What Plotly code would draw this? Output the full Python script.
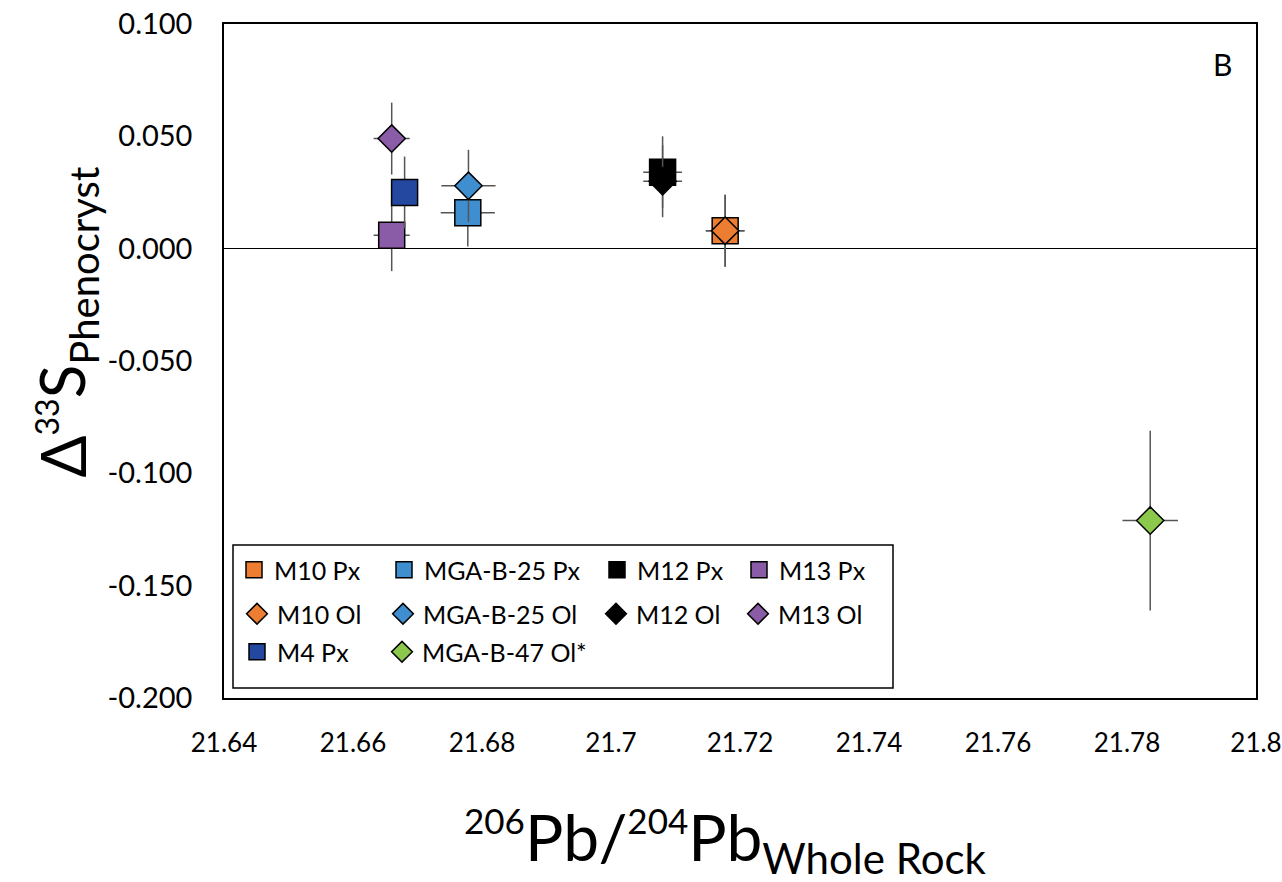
import plotly.graph_objects as go

# ---- data ----
names = ["M10 Px", "MGA-B-25 Px", "M12 Px", "M13 Px",
         "M10 Ol", "MGA-B-25 Ol", "M12 Ol", "M13 Ol",
         "M4 Px", "MGA-B-47 Ol*"]
pb206_204 = [21.7177, 21.6778, 21.7080, 21.6660,
             21.7177, 21.6779, 21.7080, 21.6660,
             21.6680, 21.7836]
d33s = [0.008, 0.016, 0.034, 0.006,
        0.008, 0.028, 0.030, 0.049,
        0.025, -0.121]
err_x = [0.0030, 0.0042, 0.0030, 0.0028,
         0.0030, 0.0042, 0.0030, 0.0028,
         0.0, 0.0043]
err_y = [0.016, 0.015, 0.016, 0.016,
         0.016, 0.016, 0.016, 0.016,
         0.016, 0.040]
colors = ["#ED7D31", "#3E8ED0", "#000000", "#8A5BA6",
          "#ED7D31", "#3E8ED0", "#000000", "#8A5BA6",
          "#2447A0", "#8CC84B"]
symbols = ["square", "square", "square", "square",
           "diamond", "diamond", "diamond", "diamond",
           "square", "diamond"]
x_ticks = [21.64, 21.66, 21.68, 21.7, 21.72, 21.74, 21.76, 21.78, 21.8]
x_tick_text = ["21.64", "21.66", "21.68", "21.7", "21.72", "21.74", "21.76", "21.78", "21.8"]
y_ticks = [0.1, 0.05, 0.0, -0.05, -0.1, -0.15, -0.2]
y_tick_text = ["0.100", "0.050", "0.000", "-0.050", "-0.100", "-0.150", "-0.200"]

# legend entry placement (left edge x, centre y, window pixels) - layout only
leg_px = [(234, 570), (384, 570), (597, 570), (739, 570),
          (237, 614), (383, 614), (596, 614), (738, 614),
          (237, 652), (382, 652)]

W, H = 1282, 882
L, R, T, B = 224, 26, 24, 184
pw, ph = W - L - R, H - T - B


def pxx(p):
    return (p - L) / pw


def pxy(p):
    return (H - B - p) / ph


FONT = "Lato, 'Open Sans', sans-serif"

fig = go.Figure()
layout_legends = {}
for i, n in enumerate(names):
    lid = "legend" if i == 0 else f"legend{i+1}"
    size = 26 if symbols[i] == "square" else 21
    fig.add_trace(go.Scatter(
        x=[pb206_204[i]], y=[d33s[i]], mode="markers", name=n,
        legend=lid,
        marker=dict(symbol=symbols[i], size=size, color=colors[i],
                    line=dict(color="black", width=1.5)),
        error_x=dict(type="data", array=[err_x[i]], visible=err_x[i] > 0,
                     color="#555555", thickness=1.5, width=0),
        error_y=dict(type="data", array=[err_y[i]], visible=True,
                     color="#555555", thickness=1.5, width=0),
    ))
    lx, ly = leg_px[i]
    layout_legends[lid] = dict(
        x=pxx(lx), y=pxy(ly),
        xanchor="left", yanchor="middle",
        bgcolor="rgba(0,0,0,0)", borderwidth=0,
        font=dict(family=FONT, size=25, color="black"),
        itemsizing="trace", itemwidth=30,
    )

fig.update_layout(**layout_legends)

x_title = ("<sup><span style='font-size:35px'>206</span></sup>Pb/"
           "<sup><span style='font-size:35px'>204</span></sup>Pb"
           "<sub><span style='font-size:42px'>Whole Rock</span></sub>")
y_title = ("Δ<sup><span style='font-size:32px'>33</span></sup>S"
           "<sub><span style='font-size:40px'>Phenocryst</span></sub>")

fig.update_layout(
    width=W, height=H,
    margin=dict(l=L, r=R, t=T, b=B, pad=0),
    paper_bgcolor="white", plot_bgcolor="white",
    showlegend=True,
    font=dict(family=FONT, size=22, color="black"),
    xaxis=dict(range=[21.64, 21.8], tickvals=x_ticks, ticktext=x_tick_text,
               showgrid=False, zeroline=False, showline=True, mirror=True,
               linecolor="black", linewidth=1.5, ticks="",
               ticklabelstandoff=21, automargin=False, ticklabeloverflow="allow",
               tickfont=dict(family=FONT, size=26, color="black")),
    yaxis=dict(range=[-0.2, 0.1], tickvals=y_ticks, ticktext=y_tick_text,
               showgrid=False, zeroline=True, zerolinecolor="black", zerolinewidth=1.2,
               showline=True, mirror=True,
               linecolor="black", linewidth=1.5, ticks="",
               ticklabelstandoff=24, automargin=False, ticklabeloverflow="allow",
               tickfont=dict(family=FONT, size=29, color="black")),
    shapes=[dict(type="rect", xref="paper", yref="paper",
                 x0=pxx(233), x1=pxx(893), y0=pxy(688), y1=pxy(545),
                 line=dict(color="black", width=1.5), fillcolor="rgba(0,0,0,0)",
                 layer="below")],
    annotations=[
        dict(text="B", xref="paper", yref="paper", x=pxx(1222), y=pxy(64),
             xanchor="center", yanchor="middle", showarrow=False,
             font=dict(family=FONT, size=30, color="black")),
        dict(text=x_title, xref="paper", yref="paper", x=pxx(725), y=pxy(796),
             xanchor="center", yanchor="top", showarrow=False,
             font=dict(family=FONT, size=64, color="black")),
        dict(text=y_title, xref="paper", yref="paper", x=pxx(110), y=pxy(322),
             xanchor="right", yanchor="middle", showarrow=False, textangle=-90,
             font=dict(family=FONT, size=62, color="black")),
    ],
)

fig.write_html("out.html", config={"displayModeBar": False},
               post_script="document.body.style.margin='0';document.body.style.overflow='hidden';")
